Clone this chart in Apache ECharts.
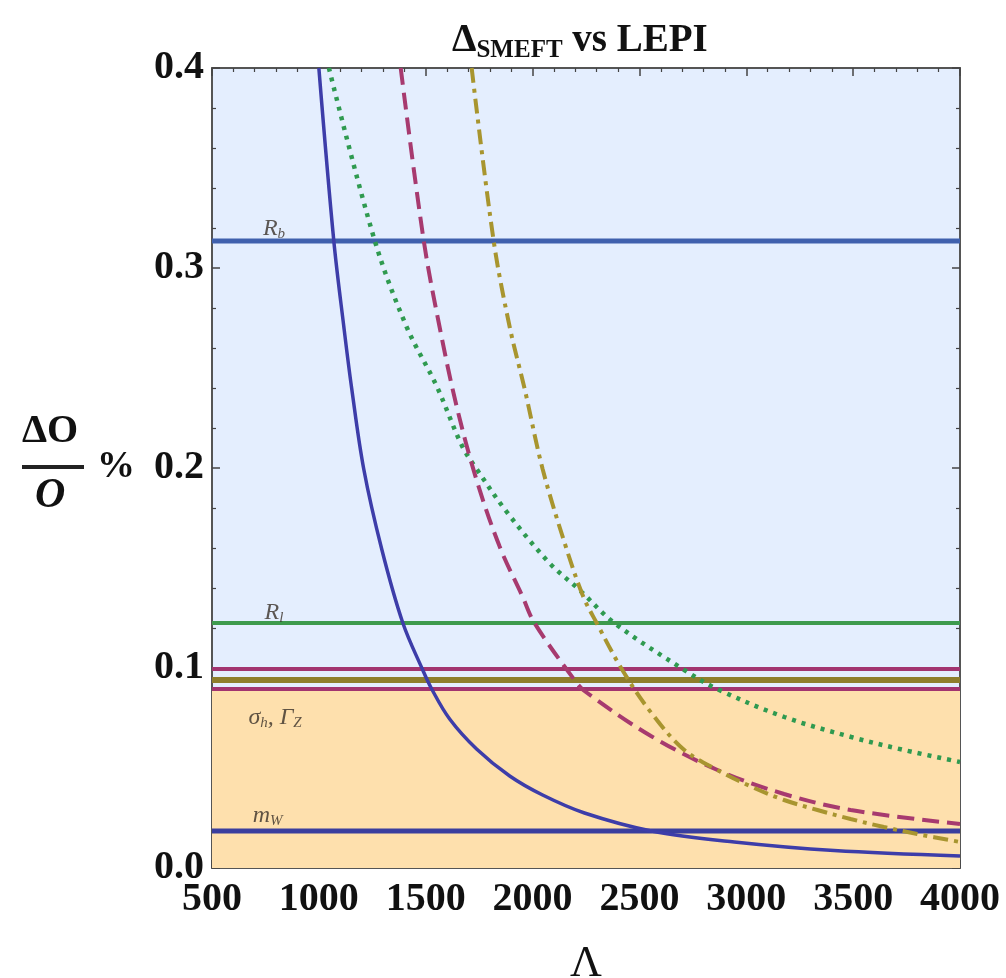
<!DOCTYPE html>
<html>
<head>
<meta charset="utf-8">
<script src="https://cdn.jsdelivr.net/npm/echarts@6/dist/echarts.min.js"></script>
<style>html,body{margin:0;padding:0;background:#fff;}#c{width:1006px;height:978px;}</style>
</head>
<body>
<div id="c"></div>
<script>
// ---- data ----
const xTicks = [500, 1000, 1500, 2000, 2500, 3000, 3500, 4000];
const yTicks = [0.0, 0.1, 0.2, 0.3, 0.4];

// solid blue curve
const lambdaBlue = [1000, 1070, 1117, 1154, 1210, 1294, 1393, 1486, 1528, 1612, 1738, 1893, 2047, 2243, 2556, 2944, 3411, 4000];
const valBlue    = [0.4, 0.3135, 0.2705, 0.2395, 0.1995, 0.1595, 0.1225, 0.099, 0.0895, 0.0745, 0.0595, 0.046, 0.0365, 0.0275, 0.0185, 0.013, 0.0087, 0.006];
// dotted green curve
const lambdaGreen = [1047, 1262, 1411, 1551, 1668, 1738, 1883, 2079, 2220, 2383, 2710, 2864, 3178, 3491, 3738, 4000];
const valGreen    = [0.4, 0.3135, 0.2705, 0.241, 0.2115, 0.1995, 0.1775, 0.1525, 0.139, 0.1225, 0.099, 0.0895, 0.0755, 0.0655, 0.059, 0.053];
// dashed magenta curve
const lambdaMagenta = [1383, 1491, 1565, 1645, 1738, 1846, 1953, 2009, 2196, 2243, 2554, 2865, 3177, 3488, 4000];
const valMagenta    = [0.4, 0.3135, 0.2705, 0.2307, 0.194, 0.1607, 0.1357, 0.1225, 0.094, 0.0885, 0.066, 0.049, 0.037, 0.029, 0.022];
// dash-dot olive curve
const lambdaOlive = [1715, 1818, 1893, 1963, 2047, 2159, 2238, 2300, 2420, 2556, 2710, 2865, 3023, 3177, 3333, 3488, 3644, 3800, 4000];
const valOlive    = [0.4, 0.3135, 0.2705, 0.2395, 0.1995, 0.1595, 0.1355, 0.1225, 0.099, 0.0775, 0.059, 0.049, 0.0407, 0.034, 0.029, 0.0245, 0.0205, 0.017, 0.013];

// horizontal bound lines
const boundNames  = ['Rb', 'Rl', 'sigmaTop', 'GammaZ', 'sigmaBottom', 'mW'];
const boundValues = [0.3135, 0.1225, 0.0995, 0.094, 0.0895, 0.0185];
const boundColors = ['#3f60ad', '#3d9a4d', '#a2346f', '#8e7e2c', '#a2346f', '#3a3e9e'];
const boundWidths = [5, 4, 4, 6, 4, 5];

// shaded bands
const orangeTop = 0.0895;

// annotations (label text, Λ, value)
const noteKeys   = ['Rb', 'Rl', 'sg', 'mW'];
const noteLambda = [790, 790, 795, 760];
const noteValue  = [0.3195, 0.1275, 0.075, 0.026];
const noteText   = ['{i|R}{s|b}', '{i|R}{s|l}', '{i|σ}{s|h}{i|, Γ}{s|Z}', '{i|m}{s|W}'];

// ---- chart ----
const serif = 'Liberation Serif';
const chart = echarts.init(document.getElementById('c'));
const pts = (xs, ys) => xs.map((x, i) => [x, ys[i]]);

const series = [];
// orange band
series.push({
  type: 'line', data: [[500, orangeTop], [4000, orangeTop]], symbol: 'none',
  lineStyle: {width: 0}, areaStyle: {color: '#fee0ad', opacity: 1}, z: 1, silent: true
});
// horizontal lines
boundNames.forEach((n, i) => {
  series.push({
    type: 'line', name: n, data: [[500, boundValues[i]], [4000, boundValues[i]]], symbol: 'none',
    lineStyle: {color: boundColors[i], width: boundWidths[i]}, z: 3, silent: true
  });
});
// curves
const curveStyle = (color, type, width) => ({color, type, width, cap: 'butt'});
series.push({type: 'line', data: pts(lambdaBlue, valBlue), symbol: 'none', smooth: 0.35,
  lineStyle: curveStyle('#3d3da9', 'solid', 3.5), z: 5});
series.push({type: 'line', data: pts(lambdaGreen, valGreen), symbol: 'none', smooth: 0.35,
  lineStyle: curveStyle('#2f9a50', [4, 6], 4.5), z: 5});
series.push({type: 'line', data: pts(lambdaMagenta, valMagenta), symbol: 'none', smooth: 0.35,
  lineStyle: curveStyle('#a73a6f', [17, 8], 4), z: 5});
series.push({type: 'line', data: pts(lambdaOlive, valOlive), symbol: 'none', smooth: 0.35,
  lineStyle: curveStyle('#a8952f', [15, 6, 4, 6], 4), z: 5});
// annotations
series.push({
  type: 'scatter', symbolSize: 0, z: 6, silent: true,
  data: noteKeys.map((k, i) => ({name: k, value: [noteLambda[i], noteValue[i]],
    label: {show: true, position: 'inside', formatter: noteText[i],
      rich: {
        i: {fontFamily: serif, fontStyle: 'italic', fontSize: 24, color: '#383028', lineHeight: 30, verticalAlign: 'middle'},
        s: {fontFamily: serif, fontStyle: 'italic', fontSize: 15, color: '#383028', lineHeight: 30, verticalAlign: 'bottom', padding: [0, 0, 2, 0]}
      }}}))
});

const axisCommon = {
  type: 'value',
  axisLine: {show: true, onZero: false, lineStyle: {color: '#555', width: 2}},
  axisTick: {show: true, inside: true, length: 8, lineStyle: {color: '#444', width: 1.5}},
  minorTick: {show: true, splitNumber: 5, length: 4, lineStyle: {color: '#444', width: 1.2}},
  splitLine: {show: false}
};

chart.setOption({
  animation: false,
  title: {
    text: '{d|Δ}{s|SMEFT}{d| vs LEPI}', left: 447, top: 14,
    textStyle: {rich: {
      d: {fontFamily: serif, fontWeight: 'bold', fontSize: 39, color: '#111', lineHeight: 44, verticalAlign: 'middle'},
      s: {fontFamily: serif, fontWeight: 'bold', fontSize: 25, color: '#111', lineHeight: 44, verticalAlign: 'bottom'}
    }}
  },
  grid: {left: 212, right: 46, top: 68, bottom: 110, show: true, backgroundColor: '#e4eefe', borderWidth: 0,
    containLabel: false, outerBoundsMode: 'none'},
  xAxis: [
    Object.assign({}, axisCommon, {
      min: xTicks[0], max: xTicks[xTicks.length - 1], interval: 500, position: 'bottom',
      axisLabel: {show: true, fontFamily: serif, fontWeight: 'bold', fontSize: 40, color: '#111', margin: 12,
        formatter: v => String(v)},
      name: 'Λ', nameLocation: 'middle', nameGap: 74,
      nameTextStyle: {fontFamily: serif, fontSize: 44, color: '#111', verticalAlign: 'top'}
    }),
    Object.assign({}, axisCommon, {
      min: xTicks[0], max: xTicks[xTicks.length - 1], interval: 500, position: 'top',
      axisLabel: {show: false}
    })
  ],
  yAxis: [
    Object.assign({}, axisCommon, {
      min: yTicks[0], max: yTicks[yTicks.length - 1], interval: 0.1, position: 'left',
      axisLabel: {show: true, fontFamily: serif, fontWeight: 'bold', fontSize: 40, color: '#111', margin: 8,
        formatter: v => v.toFixed(1)}
    }),
    Object.assign({}, axisCommon, {
      min: yTicks[0], max: yTicks[yTicks.length - 1], interval: 0.1, position: 'right',
      axisLabel: {show: false}
    })
  ],
  graphic: [
    {type: 'text', left: 22, top: 412, style: {text: 'ΔO', font: 'bold 40px "Liberation Serif"', fill: '#111'}},
    {type: 'line', shape: {x1: 22, y1: 467, x2: 84, y2: 467}, style: {stroke: '#222', lineWidth: 4}},
    {type: 'text', left: 35, top: 475, style: {text: 'O', font: 'italic bold 42px "Liberation Serif"', fill: '#111'}},
    {type: 'text', left: 97, top: 448, style: {text: '%', font: 'bold 38px "Liberation Serif"', fill: '#111'}}
  ],
  series
});
</script>
</body>
</html>
